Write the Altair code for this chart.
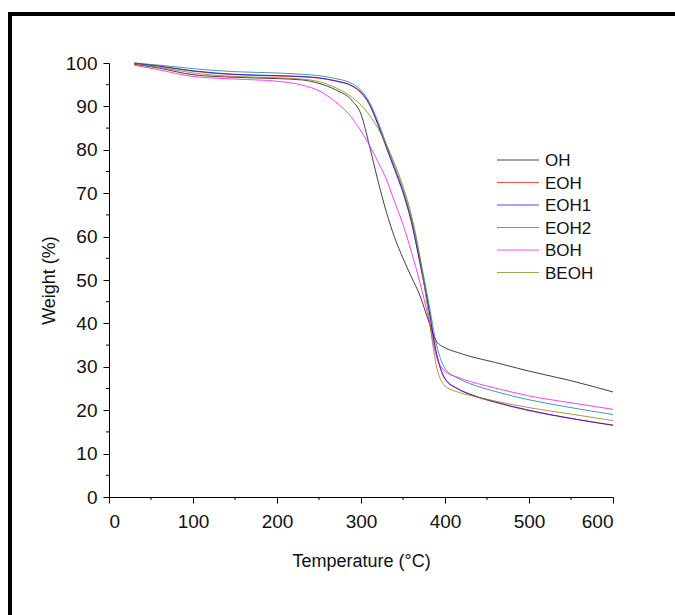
import altair as alt
import pandas as pd

temps = [30, 60, 100, 150, 200, 230, 250, 270, 290, 300, 310, 320, 330, 340, 350, 360, 370, 380, 390, 400, 415, 430, 460, 500, 550, 600]

oh   = [99.7, 98.8, 97.3, 96.7, 96.4, 96.1, 95.3, 93.8, 91.2, 88.2, 81.0, 73.0, 65.8, 59.8, 55.0, 50.7, 46.5, 40.8, 35.8, 34.4, 33.3, 32.4, 31.0, 29.0, 26.8, 24.2]
eoh  = [99.9, 99.2, 98.1, 97.3, 97.0, 96.8, 96.5, 95.8, 94.6, 93.1, 90.4, 85.8, 80.6, 75.4, 70.1, 63.3, 54.0, 44.0, 32.8, 27.2, 24.9, 23.6, 21.8, 19.9, 18.1, 16.6]
eoh1 = [100.0, 99.3, 98.2, 97.4, 97.1, 96.9, 96.6, 95.9, 94.7, 93.3, 90.6, 86.0, 80.8, 75.6, 70.3, 63.5, 54.2, 44.3, 33.0, 27.3, 25.0, 23.7, 21.9, 20.0, 18.1, 16.5]
eoh2 = [100.0, 99.5, 98.7, 98.0, 97.7, 97.4, 97.1, 96.4, 95.2, 93.7, 91.0, 86.6, 81.4, 76.2, 70.9, 64.3, 55.3, 45.5, 35.0, 29.6, 27.4, 26.1, 24.3, 22.4, 20.6, 19.0]
boh  = [99.5, 98.4, 96.9, 96.3, 95.8, 94.9, 93.6, 91.0, 87.2, 84.3, 81.1, 77.3, 73.3, 68.0, 62.8, 56.5, 49.5, 41.5, 32.2, 29.0, 27.6, 26.6, 25.1, 23.3, 21.7, 20.2]
beoh = [99.8, 99.0, 97.7, 96.9, 96.6, 96.3, 95.7, 94.3, 92.0, 90.3, 88.0, 85.0, 81.2, 76.8, 71.6, 65.0, 55.5, 42.5, 30.0, 25.6, 24.2, 23.4, 22.1, 20.6, 19.1, 17.6]

series_names = ["OH", "EOH", "EOH1", "EOH2", "BOH", "BEOH"]
series_colors = ["#000000", "#ff0000", "#0000ff", "#008080", "#ff00ff", "#808000"]
series_values = [oh, eoh, eoh1, eoh2, boh, beoh]

x_major = [0, 100, 200, 300, 400, 500, 600]
x_minor = [50, 150, 250, 350, 450, 550]
y_major = [0, 10, 20, 30, 40, 50, 60, 70, 80, 90, 100]
y_minor = [5, 15, 25, 35, 45, 55, 65, 75, 85, 95]

rows = []
for name, vals in zip(series_names, series_values):
    for t, w in zip(temps, vals):
        rows.append({"series": name, "T": t, "W": w})
df = pd.DataFrame(rows)
legend_df = pd.DataFrame({"series": series_names})

W_PLOT = 504
H_PLOT = 434
FONT = "Liberation Sans"

xscale = alt.Scale(domain=[0, 600], nice=False, zero=False)
yscale = alt.Scale(domain=[0, 100], nice=False, zero=False)
cscale = alt.Scale(domain=series_names, range=series_colors)
lscale = alt.Scale(type="point", domain=series_names, range=[97, 209.5], padding=0)

lines = alt.Chart(df).mark_line(strokeWidth=1, strokeOpacity=0.75, interpolate="monotone").encode(
    x=alt.X("T:Q", scale=xscale,
            axis=alt.Axis(values=x_major, title="Temperature (°C)", format="d")),
    y=alt.Y("W:Q", scale=yscale,
            axis=alt.Axis(values=y_major, title="Weight (%)", format="d")),
    color=alt.Color("series:N", scale=cscale, sort=series_names, legend=None),
)

minor_x = alt.Chart(pd.DataFrame({"T": x_minor})).mark_rule(color="black", strokeWidth=1).encode(
    x=alt.X("T:Q", scale=xscale),
    y=alt.value(H_PLOT),
    y2=alt.value(H_PLOT + 3),
)
minor_y = alt.Chart(pd.DataFrame({"W": y_minor})).mark_rule(color="black", strokeWidth=1).encode(
    y=alt.Y("W:Q", scale=yscale, axis=None),
    x=alt.value(0),
    x2=alt.value(-3),
)

leg_lines = alt.Chart(legend_df).mark_rule(strokeWidth=1, strokeOpacity=0.7).encode(
    y=alt.Y("series:N", scale=lscale, axis=None),
    x=alt.value(388), x2=alt.value(430),
    color=alt.Color("series:N", scale=cscale, legend=None),
)
leg_text = alt.Chart(legend_df).mark_text(
    align="left", baseline="middle", font=FONT, fontSize=17, color="#111111", dy=1
).encode(
    y=alt.Y("series:N", scale=lscale, axis=None),
    x=alt.value(436),
    text="series:N",
)

frame = alt.Chart(pd.DataFrame({"k": [0]})).mark_rect(
    filled=False, stroke="black", strokeWidth=4
).encode(
    x=alt.value(-99), x2=alt.value(700), y=alt.value(-49), y2=alt.value(700)
)

chart = alt.layer(lines, minor_x, minor_y, leg_lines, leg_text, frame).resolve_scale(
    y="independent"
).properties(
    width=W_PLOT, height=H_PLOT,
    autosize=alt.AutoSizeParams(type="none"),
    padding={"left": 109, "top": 63, "right": 62, "bottom": 118},
    background="white",
).configure_view(stroke=None).configure_axis(
    grid=False, domainColor="black", tickColor="black", tickSize=6,
    labelFont=FONT, labelFontSize=19, labelColor="#111111",
    titleFont=FONT, titleFontSize=18, titleFontWeight="normal", titleColor="#111111",
).configure_axisX(labelPadding=9, titlePadding=21).configure_axisY(labelPadding=6, titlePadding=7)

chart.save("out.html", embed_options={"renderer": "svg", "actions": False})
